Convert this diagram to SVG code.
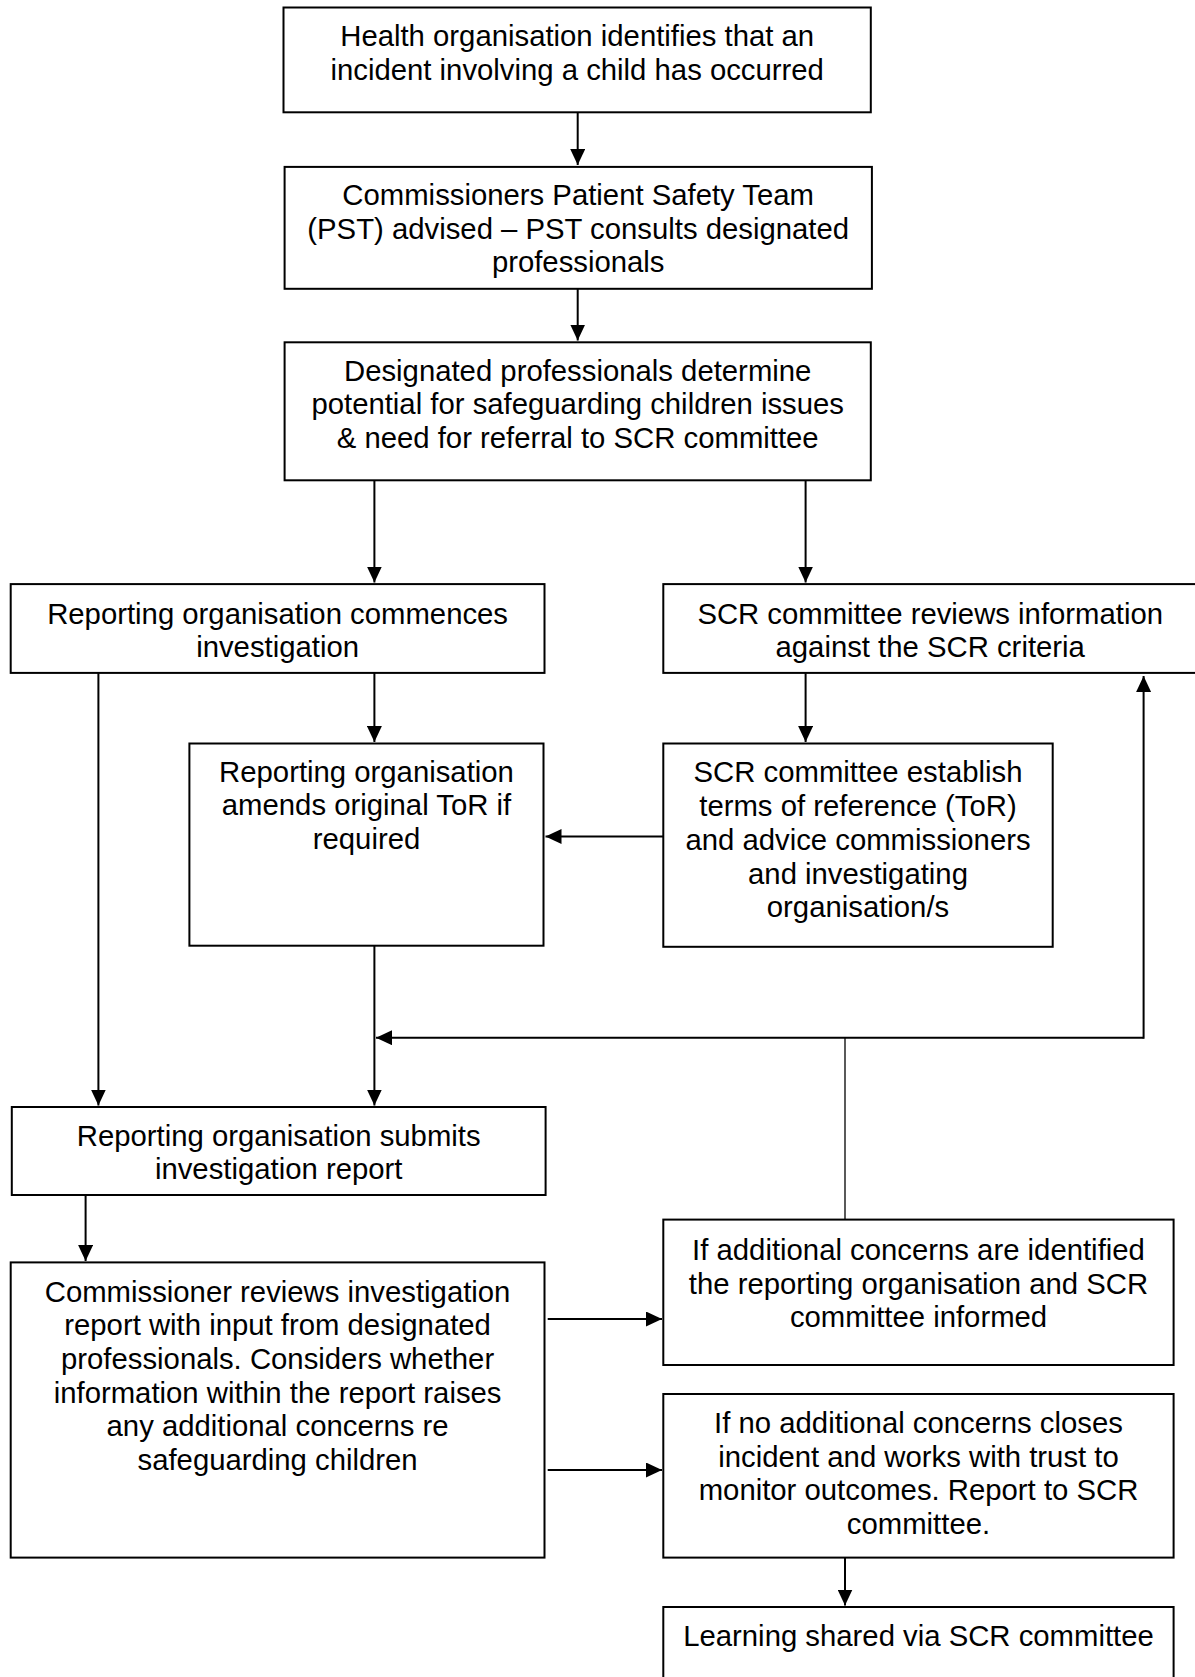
<svg xmlns="http://www.w3.org/2000/svg" width="1195" height="1677" viewBox="0 0 1195 1677">
<defs>
<style>
.box{fill:#fff;stroke:#000;stroke-width:2}
.t{font-family:"Liberation Sans",Arial,sans-serif;font-size:29.3px;fill:#000;text-anchor:middle}
.c{fill:none;stroke:#000;stroke-width:2}
.thin{fill:none;stroke:#000;stroke-width:1.3}
</style>
<marker id="ah" markerUnits="userSpaceOnUse" markerWidth="16" markerHeight="15" refX="16" refY="7.5" orient="auto">
<path d="M0,0 L16,7.5 L0,15 Z" fill="#000"/>
</marker>
</defs>
<rect width="1195" height="1677" fill="#fff"/>
<g id="connectors">
<path class="c" d="M577.7,112.3 V165" marker-end="url(#ah)"/>
<path class="c" d="M577.7,288.8 V340.5" marker-end="url(#ah)"/>
<path class="c" d="M374.4,480.3 V582.5" marker-end="url(#ah)"/>
<path class="c" d="M805.6,480.3 V582.5" marker-end="url(#ah)"/>
<path class="c" d="M374.4,671 V742" marker-end="url(#ah)"/>
<path class="c" d="M805.6,672.9 V742" marker-end="url(#ah)"/>
<path class="c" d="M663.3,836.5 H545.5" marker-end="url(#ah)"/>
<path class="c" d="M98.4,672.9 V1105.5" marker-end="url(#ah)"/>
<path class="c" d="M374.4,945.7 V1105.5" marker-end="url(#ah)"/>
<path class="c" d="M1143.6,1037.7 H376" marker-end="url(#ah)"/>
<path class="c" d="M1143.6,1038.7 V676" marker-end="url(#ah)"/>
<path class="thin" d="M845,1219.6 V1037.7"/>
<path class="c" d="M85.6,1195 V1261" marker-end="url(#ah)"/>
<path class="c" d="M547.7,1319 H662" marker-end="url(#ah)"/>
<path class="c" d="M547.7,1470 H662" marker-end="url(#ah)"/>
<path class="c" d="M845,1557.6 V1605.5" marker-end="url(#ah)"/>
</g>
<g id="n1">
<rect class="box" x="283.5" y="7.5" width="587.3" height="104.8"/>
<text class="t" x="577.2" y="45.8">Health organisation identifies that an<tspan x="577.2" dy="34.2">incident involving a child has occurred</tspan></text>
</g>
<g id="n2">
<rect class="box" x="284.6" y="166.9" width="587.3" height="121.9"/>
<text class="t" x="578.2" y="205.2">Commissioners Patient Safety Team<tspan x="578.2" dy="33.6">(PST) advised – PST consults designated</tspan><tspan x="578.2" dy="33.6">professionals</tspan></text>
</g>
<g id="n3">
<rect class="box" x="284.6" y="342.3" width="586.2" height="138"/>
<text class="t" x="577.7" y="380.6">Designated professionals determine<tspan x="577.7" dy="33.6">potential for safeguarding children issues</tspan><tspan x="577.7" dy="33.6">&amp; need for referral to SCR committee</tspan></text>
</g>
<g id="n4">
<rect class="box" x="10.7" y="584.1" width="533.8" height="88.8"/>
<text class="t" x="277.6" y="623.5">Reporting organisation commences<tspan x="277.6" dy="33.6">investigation</tspan></text>
</g>
<g id="n5">
<rect class="box" x="663.3" y="584.1" width="540" height="88.8"/>
<text class="t" x="930.2" y="623.5">SCR committee reviews information<tspan x="930.2" dy="33.6">against the SCR criteria</tspan></text>
</g>
<g id="n6">
<rect class="box" x="189.4" y="743.5" width="354.1" height="202.2"/>
<text class="t" x="366.5" y="781.8">Reporting organisation<tspan x="366.5" dy="33.6">amends original ToR if</tspan><tspan x="366.5" dy="33.6">required</tspan></text>
</g>
<g id="n7">
<rect class="box" x="663.3" y="743.5" width="389.4" height="203.3"/>
<text class="t" x="858" y="781.8">SCR committee establish<tspan x="858" dy="33.9">terms of reference (ToR)</tspan><tspan x="858" dy="33.9">and advice commissioners</tspan><tspan x="858" dy="33.9">and investigating</tspan><tspan x="858" dy="33.9">organisation/s</tspan></text>
</g>
<g id="n8">
<rect class="box" x="11.8" y="1107" width="533.8" height="88"/>
<text class="t" x="278.7" y="1145.6">Reporting organisation submits<tspan x="278.7" dy="33.3">investigation report</tspan></text>
</g>
<g id="n9">
<rect class="box" x="10.7" y="1262.4" width="533.8" height="295.2"/>
<text class="t" x="277.6" y="1301.8">Commissioner reviews investigation<tspan x="277.6" dy="33.6">report with input from designated</tspan><tspan x="277.6" dy="33.6">professionals. Considers whether</tspan><tspan x="277.6" dy="33.6">information within the report raises</tspan><tspan x="277.6" dy="33.6">any additional concerns re</tspan><tspan x="277.6" dy="33.6">safeguarding children</tspan></text>
</g>
<g id="n10">
<rect class="box" x="663.3" y="1219.6" width="510.3" height="145.4"/>
<text class="t" x="918.5" y="1260">If additional concerns are identified<tspan x="918.5" dy="33.7">the reporting organisation and SCR</tspan><tspan x="918.5" dy="33.7">committee informed</tspan></text>
</g>
<g id="n11">
<rect class="box" x="663.3" y="1394" width="510.3" height="163.6"/>
<text class="t" x="918.5" y="1433.3">If no additional concerns closes<tspan x="918.5" dy="33.5">incident and works with trust to</tspan><tspan x="918.5" dy="33.5">monitor outcomes. Report to SCR</tspan><tspan x="918.5" dy="33.5">committee.</tspan></text>
</g>
<g id="n12">
<rect class="box" x="663.3" y="1607" width="510.3" height="90"/>
<text class="t" x="918.5" y="1646.2">Learning shared via SCR committee</text>
</g>
</svg>
